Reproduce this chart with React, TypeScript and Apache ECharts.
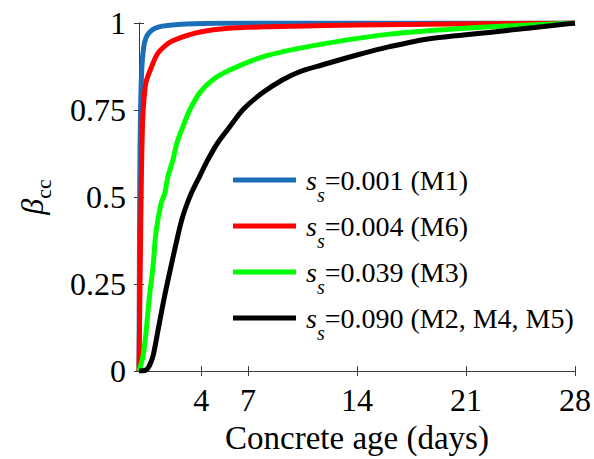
import React, { useEffect, useRef } from "react";
import * as echarts from "echarts";

// Concrete age (days) and beta_cc, one pair of arrays per curve
const ageM1 = [0, 0.05, 0.1, 0.18, 0.3, 0.45, 0.65, 1.0, 1.5, 2.5, 5, 10, 28];
const betaM1 = [0, 0.55, 0.75, 0.87, 0.93, 0.957, 0.972, 0.984, 0.991, 0.996, 0.999, 1, 1];

const ageM6 = [0, 0.08, 0.15, 0.22, 0.3, 0.45, 0.77, 1.1, 1.4, 2, 3, 4, 5.6, 8, 10, 14, 20, 28];
const betaM6 = [0, 0.3, 0.55, 0.7, 0.77, 0.83, 0.87, 0.905, 0.923, 0.945, 0.963, 0.975, 0.984, 0.989, 0.991, 0.994, 0.997, 1];

const ageM3 = [0, 0.26, 0.45, 0.65, 0.9, 1.09, 1.41, 1.67, 1.86, 2.18, 2.44, 2.82, 3.27, 3.91, 4.74, 5.83, 7.76, 9.7, 12.9, 16.1, 19.3, 22.9, 28];
const betaM3 = [0, 0.043, 0.11, 0.206, 0.3, 0.398, 0.48, 0.513, 0.559, 0.607, 0.656, 0.702, 0.751, 0.8, 0.837, 0.865, 0.9, 0.922, 0.948, 0.968, 0.98, 0.99, 1];

const ageM2 = [0, 0.4, 0.65, 0.9, 1.2, 1.6, 2.05, 2.5, 2.75, 3.0, 3.4, 3.91, 4.42, 5.06, 5.83, 6.67, 7.95, 9.23, 10.32, 11.8, 14, 16.1, 18.65, 22.9, 28];
const betaM2 = [0, 0.002, 0.014, 0.043, 0.112, 0.206, 0.3, 0.39, 0.435, 0.47, 0.515, 0.561, 0.607, 0.656, 0.702, 0.751, 0.8, 0.837, 0.86, 0.88, 0.908, 0.932, 0.955, 0.975, 1];

const seriesNames = ["ss=0.001 (M1)", "ss=0.004 (M6)", "ss=0.039 (M3)", "ss=0.090 (M2, M4, M5)"];
const legendTexts = ["=0.001 (M1)", "=0.004 (M6)", "=0.039 (M3)", "=0.090 (M2, M4, M5)"];
const seriesColors = ["#1a6fb8", "#ff0000", "#00ff00", "#000000"];
const xTickValues = [4, 7, 14, 21, 28];

const ages = [ageM1, ageM6, ageM3, ageM2];
const betas = [betaM1, betaM6, betaM3, betaM2];

const FONT = "Liberation Serif";
const AXIS_COLOR = "#3a3a3a";

export default function App() {
  const ref = useRef<HTMLDivElement>(null);
  useEffect(() => {
    document.body.style.margin = "0";
    if (!ref.current) return;
    const chart = echarts.init(ref.current, null, { renderer: "svg" });
    const axisCommon = {
      axisLine: { show: true, lineStyle: { color: AXIS_COLOR, width: 1 } },
      axisTick: { show: true, inside: true, length: 5, lineStyle: { color: AXIS_COLOR } },
      splitLine: { show: false },
    };
    chart.setOption({
      animation: false,
      backgroundColor: "#ffffff",
      grid: { left: 139, right: 18, top: 23, bottom: 87 },
      xAxis: [
        {
          type: "value",
          min: 0,
          max: 28,
          position: "bottom",
          ...axisCommon,
          axisTick: { ...axisCommon.axisTick, customValues: xTickValues },
          axisLabel: {
            customValues: xTickValues,
            fontFamily: FONT,
            fontSize: 32,
            color: "#000",
            margin: 13,
          },
          name: "Concrete age (days)",
          nameLocation: "middle",
          nameGap: 45,
          nameTextStyle: { fontFamily: FONT, fontSize: 33, color: "#000" },
        },
        {
          type: "value",
          min: 0,
          max: 28,
          position: "top",
          ...axisCommon,
          axisTick: { ...axisCommon.axisTick, customValues: xTickValues },
          axisLabel: { show: false },
        },
      ],
      yAxis: [
        {
          type: "value",
          min: 0,
          max: 1,
          interval: 0.25,
          position: "left",
          ...axisCommon,
          axisLabel: { fontFamily: FONT, fontSize: 32, color: "#000", margin: 13 },
          name: "{b|β}{c|cc}",
          nameLocation: "middle",
          nameRotate: 90,
          nameGap: 85,
          nameTextStyle: {
            fontFamily: FONT,
            rich: {
              b: { fontFamily: FONT, fontSize: 32, fontStyle: "italic", color: "#000" },
              c: { fontFamily: FONT, fontSize: 22, color: "#000", padding: [22, 0, 0, 0] },
            },
          },
        },
        {
          type: "value",
          min: 0,
          max: 1,
          interval: 0.25,
          position: "right",
          ...axisCommon,
          axisLabel: { show: false },
        },
      ],
      legend: {
        orient: "vertical",
        left: 228,
        top: 161,
        itemWidth: 63,
        itemHeight: 5,
        itemGap: 7,
        icon: "rect",
        data: seriesNames,
        formatter: (name: string) => {
          const k = seriesNames.indexOf(name);
          return `{i|s}{sub|s}{t|${legendTexts[k]}}`;
        },
        textStyle: {
          fontFamily: FONT,
          fontSize: 28,
          color: "#000",
          rich: {
            i: { fontFamily: FONT, fontSize: 28, fontStyle: "italic", color: "#000", padding: [0, 0, 0, 5] },
            sub: { fontFamily: FONT, fontSize: 20, fontStyle: "italic", color: "#000", padding: [30, 0, 0, 0] },
            t: { fontFamily: FONT, fontSize: 28, color: "#000" },
          },
        },
      },
      series: seriesNames.map((name, k) => ({
        name,
        type: "line",
        xAxisIndex: 0,
        yAxisIndex: 0,
        data: ages[k].map((t, i) => [t, betas[k][i]]),
        showSymbol: false,
        symbol: "none",
        smooth: 0.3,
        clip: true,
        lineStyle: { color: seriesColors[k], width: 5 },
        itemStyle: { color: seriesColors[k] },
      })),
    });
    return () => chart.dispose();
  }, []);
  return <div ref={ref} style={{ width: 594, height: 459 }} />;
}
